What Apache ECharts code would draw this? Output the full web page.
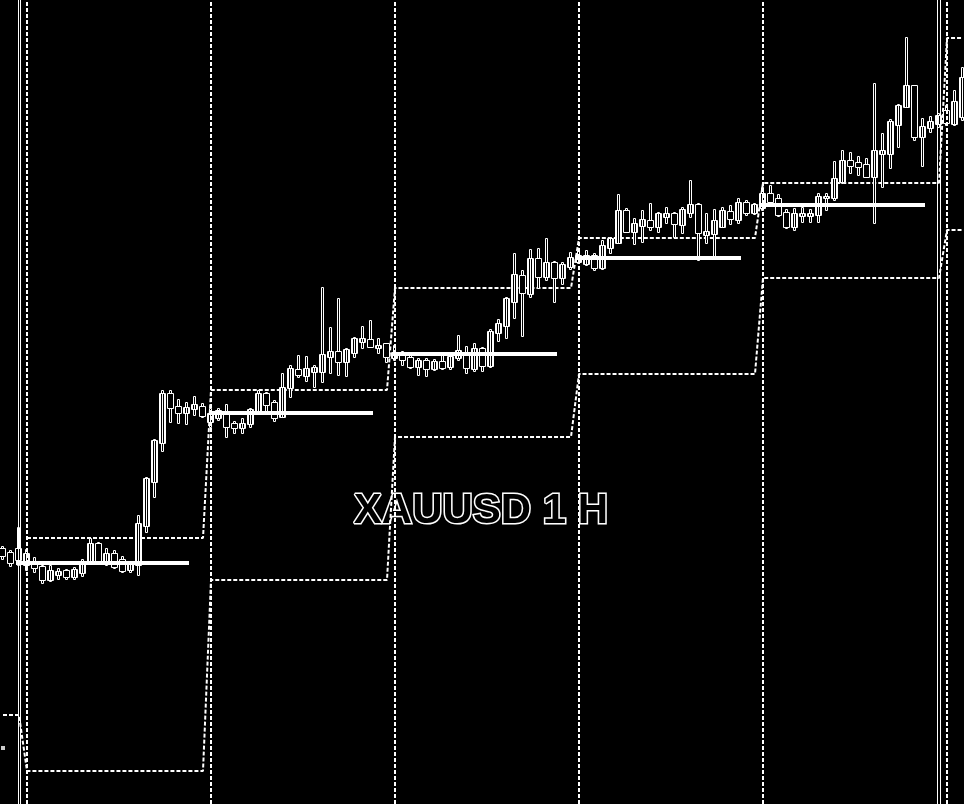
<!DOCTYPE html>
<html><head><meta charset="utf-8">
<script src="https://cdn.jsdelivr.net/npm/echarts@6/dist/echarts.min.js"></script>
<style>html,body{margin:0;padding:0;background:#000}#c{width:964px;height:804px}</style>
</head><body><div id="c"></div><script>
// OHLC per hourly candle, as [open, close, low, high] in chart price points
const candles = [
[256,248,245,258],[252,241,238,254],[256,244,239,277],[239,251,234,255],[243,236,232,247],
[238,224,221,239],[224,234,223,239],[229,233,225,236],[234,227,225,235],[227,235,225,237],
[231,241,228,245],[242,261,241,266],[261,242,241,262],[242,251,239,256],[251,237,236,254],
[245,233,232,248],[234,241,232,242],[239,281,229,289],[278,326,272,327],[322,364,307,365],
[361,411,353,414],[411,396,382,414],[398,391,381,405],[391,397,380,402],[395,400,389,408],
[398,388,387,401],[382,391,377,396],[386,394,384,396],[392,377,367,400],[381,376,371,383],
[376,381,371,386],[380,395,377,396],[392,411,391,414],[411,399,391,412],[402,386,383,404],
[387,417,387,431],[416,436,407,439],[435,429,427,449],[428,436,423,448],[432,437,417,439],
[432,450,422,517],[447,453,431,477],[453,442,429,506],[442,455,428,456],[451,466,447,467],
[462,466,456,478],[465,457,457,484],[456,459,451,466],[461,447,442,461],[446,452,444,459],
[452,444,439,453],[447,437,436,451],[437,444,429,446],[444,435,428,446],[435,443,434,445],
[443,436,435,452],[437,448,435,450],[446,454,444,469],[451,436,431,458],[435,456,433,461],
[456,438,433,457],[438,473,437,475],[471,481,463,485],[478,506,466,507],[502,530,486,551],
[529,511,468,534],[510,546,507,555],[546,527,516,556],[527,542,524,566],[542,526,502,543],
[526,540,520,542],[537,547,535,552],[542,549,541,554],[540,549,539,554],[549,536,534,551],
[536,559,535,564],[556,566,551,567],[561,594,561,610],[594,572,572,596],[572,581,560,586],
[578,585,562,594],[584,577,574,601],[577,591,572,592],[587,591,581,597],[591,580,567,592],
[579,595,571,597],[591,600,587,624],[600,571,544,601],[569,573,561,591],[570,584,547,595],
[577,594,577,597],[593,585,580,599],[584,602,581,606],[602,591,589,604],[591,600,590,601],
[596,611,594,617],[611,602,599,619],[606,589,588,610],[592,577,576,595],[577,591,574,596],
[588,591,582,597],[588,591,582,595],[589,608,582,611],[606,608,594,611],[606,626,604,643],
[622,644,621,654],[644,638,631,652],[642,637,629,648],[640,627,627,646],[627,654,581,721],
[650,654,617,671],[650,683,636,685],[679,699,657,700],[697,719,697,767],[719,667,664,719],
[667,678,638,686],[676,683,672,688],[680,689,677,691],[694,681,679,699],[680,703,679,714],
[687,727,684,737]
];
// candle index where each trading session (23 h) begins
const sessionStart = [0, 3, 26, 49, 72, 95, 118];
// per-session levels
const upperBand = [null, 266, 414, 516, 566, 621, 766];
const lowerBand = [89, 33, 224, 367, 430, 526, 574];
const midLevel  = [null, 241, 391, 450, 546, 599, 688];
// vertical marker lines (candle index positions)
const markerLines = [1.875, 2.19, 116.81, 117.125];
const markerPoint = [[0, 56]];
const title = 'XAUUSD 1 H';

function sessionOf(k){ let s=0; for(let i=0;i<sessionStart.length;i++){ if(sessionStart[i]<=k) s=i; } return s; }
const candleData = candles.map((c,k)=>[k, c[0], c[1], c[2], c[3]]);
const upperData = candles.map((c,k)=>[k, upperBand[sessionOf(k)]]);
const lowerData = candles.map((c,k)=>[k, lowerBand[sessionOf(k)]]);
const midSegs = [];
for(let s=0;s<sessionStart.length;s++){
  if(midLevel[s]==null) continue;
  const x0 = s===1 ? sessionStart[s]-1.375 : sessionStart[s]-0.25;
  midSegs.push([{coord:[x0, midLevel[s]]},{coord:[sessionStart[s]+20.25, midLevel[s]]}]);
}

// vertical stripe pattern for bullish bodies
const pc = document.createElement('canvas'); pc.width=2; pc.height=2;
const pctx = pc.getContext('2d'); pctx.fillStyle='#000'; pctx.fillRect(0,0,2,2); pctx.fillStyle='#fff'; pctx.fillRect(0,0,1,2);
const stripe = {image: pc, repeat: 'repeat'};

function renderCandle(params, api){
  const k = api.value(0), o = api.value(1), c = api.value(2), l = api.value(3), h = api.value(4);
  const cx = Math.round(api.coord([k, o])[0]);
  const yo = api.coord([k,o])[1], yc = api.coord([k,c])[1], yl = api.coord([k,l])[1], yh = api.coord([k,h])[1];
  const top = Math.round(Math.min(yo,yc)) + 0.5, bot = Math.round(Math.max(yo,yc)) + 0.5;
  const wt = Math.round(yh) + 0.5, wb = Math.round(yl) + 0.5;
  const up = c > o;
  return {type:'group', children:[
    {type:'rect', shape:{x:cx-1.5, y:wt, width:2, height:Math.max(wb-wt,1)}, style:{fill:'#000', stroke:'#fff', lineWidth:1}},
    {type:'rect', shape:{x:cx-3.5, y:top, width:6, height:Math.max(bot-top,2)}, style:{fill: up ? stripe : '#000', stroke:'#fff', lineWidth:1}}
  ]};
}

const chart = echarts.init(document.getElementById('c'));
const dotted = {color:'#fff', width:2, type:[4,2]};
chart.setOption({
  animation:false,
  backgroundColor:'#000',
  grid:{left:0,right:0,top:0,bottom:0},
  xAxis:{type:'value',min:-0.375,max:120.125,show:false,splitLine:{show:false}},
  yAxis:{type:'value',min:0,max:804,show:false,splitLine:{show:false}},
  graphic:[{type:'text',z:0,style:{text:title,x:481,y:511,fill:'#000',stroke:'#fff',lineWidth:3,
    font:'bold 42px "Liberation Sans", Arial, sans-serif',textAlign:'center',textVerticalAlign:'middle'}}],
  series:[
    {type:'line',z:1,data:upperData,symbol:'none',lineStyle:dotted,silent:true,
      markLine:{silent:true,symbol:['none','none'],label:{show:false},lineStyle:dotted,
        data:sessionStart.slice(1).map(k=>({xAxis:k}))}},
    {type:'line',z:1,data:lowerData,symbol:'none',lineStyle:dotted,silent:true},
    {type:'custom',z:2,data:candleData,renderItem:renderCandle,silent:true,encode:{x:0,y:[1,2,3,4]}},
    {type:'line',z:3,data:[],silent:true,
      markLine:{silent:true,symbol:['none','none'],label:{show:false},lineStyle:{color:'#fff',width:4,type:'solid'},data:midSegs}},
    {type:'line',z:4,data:[],silent:true,
      markLine:{silent:true,symbol:['none','none'],label:{show:false},lineStyle:{color:'#fff',width:1,type:'solid'},
        data:markerLines.map(k=>({xAxis:k}))}},
    {type:'scatter',z:4,data:markerPoint,symbol:'rect',symbolSize:4,itemStyle:{color:'#fff'},silent:true}
  ]
});
</script></body></html>
